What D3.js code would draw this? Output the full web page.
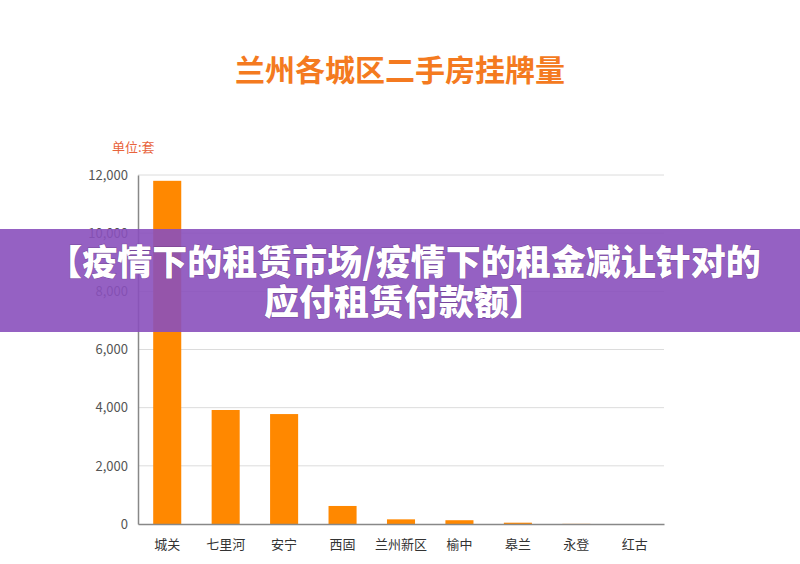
<!DOCTYPE html>
<html><head><meta charset="utf-8">
<script src="https://cdn.jsdelivr.net/npm/d3@7"></script>
<style>body{margin:0;background:#fff}svg{display:block}</style>
</head><body>
<script>
const categories = ["城关","七里河","安宁","西固","兰州新区","榆中","皋兰","永登","红古"];
const values = [11800, 3920, 3780, 620, 160, 130, 45, 5, 0];
const yTicks = [0, 2000, 4000, 6000, 8000, 10000, 12000];
const title = "兰州各城区二手房挂牌量";
const unitLabel = "单位:套";
const bannerLines = ["【疫情下的租赁市场/疫情下的租金减让针对的", "应付租赁付款额】"];

(function () {
const W = 800, H = 564;
const font = "'Noto Sans CJK SC', 'Noto Sans', sans-serif";
const svg = d3.select("body").append("svg").attr("width", W).attr("height", H);
svg.append("rect").attr("width", W).attr("height", H).attr("fill", "#fff");

const pL = 138, pR = 664, pT = 175, pB = 524;
const x = d3.scaleBand().domain(categories).range([pL, pR]).paddingInner(0.52).paddingOuter(0.26);
const y = d3.scaleLinear().domain([0, 12000]).range([pB, pT]);

// grid
svg.append("g").selectAll("line").data(yTicks.filter(d => d > 0)).join("line")
  .attr("x1", pL).attr("x2", pR).attr("y1", d => y(d)).attr("y2", d => y(d))
  .attr("stroke", "#dcdcdc").attr("stroke-width", 1);

// bars
svg.append("g").selectAll("rect").data(values).join("rect")
  .attr("x", (d, i) => x(categories[i])).attr("width", x.bandwidth())
  .attr("y", d => y(d)).attr("height", d => pB - y(d))
  .attr("fill", "#ff8800");

// y axis
const yAxis = d3.axisLeft(y).tickValues(yTicks).tickFormat(d3.format(",")).tickSize(0).tickPadding(10);
const ya = svg.append("g").attr("transform", `translate(${pL},0)`).call(yAxis);
ya.select(".domain").attr("stroke", "#888").attr("stroke-width", 1.5);
ya.selectAll("text").attr("font-family", font).attr("font-size", 13).attr("fill", "#555");

// x axis
const xAxis = d3.axisBottom(x).tickSize(0).tickPadding(16);
const xa = svg.append("g").attr("transform", `translate(0,${pB})`).call(xAxis);
xa.select(".domain").attr("stroke", "#888").attr("stroke-width", 1.5);
xa.selectAll("text").attr("font-family", font).attr("font-size", 13).attr("fill", "#333");

// title
svg.append("text").attr("x", 400).attr("y", 81).attr("text-anchor", "middle")
  .attr("font-family", font).attr("font-size", 30).attr("font-weight", "bold")
  .attr("fill", "#f47a20").text(title);

svg.append("text").attr("x", 112).attr("y", 152)
  .attr("font-family", font).attr("font-size", 13).attr("fill", "#e8643c").text(unitLabel);

// banner
svg.append("rect").attr("x", 0).attr("y", 229).attr("width", W).attr("height", 103)
  .attr("fill", "#8a50bd").attr("opacity", 0.9);
const bt = svg.append("g").attr("font-family", font).attr("font-size", 35).attr("font-weight", "900")
  .attr("fill", "#fff").attr("text-anchor", "middle");
bannerLines.forEach((t, i) => {
  bt.append("text").attr("x", 404).attr("y", 275 + i * 40)
    .attr("stroke", "rgba(60,20,80,0.35)").attr("stroke-width", 1).attr("paint-order", "stroke")
    .text(t);
});
})();
</script>
</body></html>
